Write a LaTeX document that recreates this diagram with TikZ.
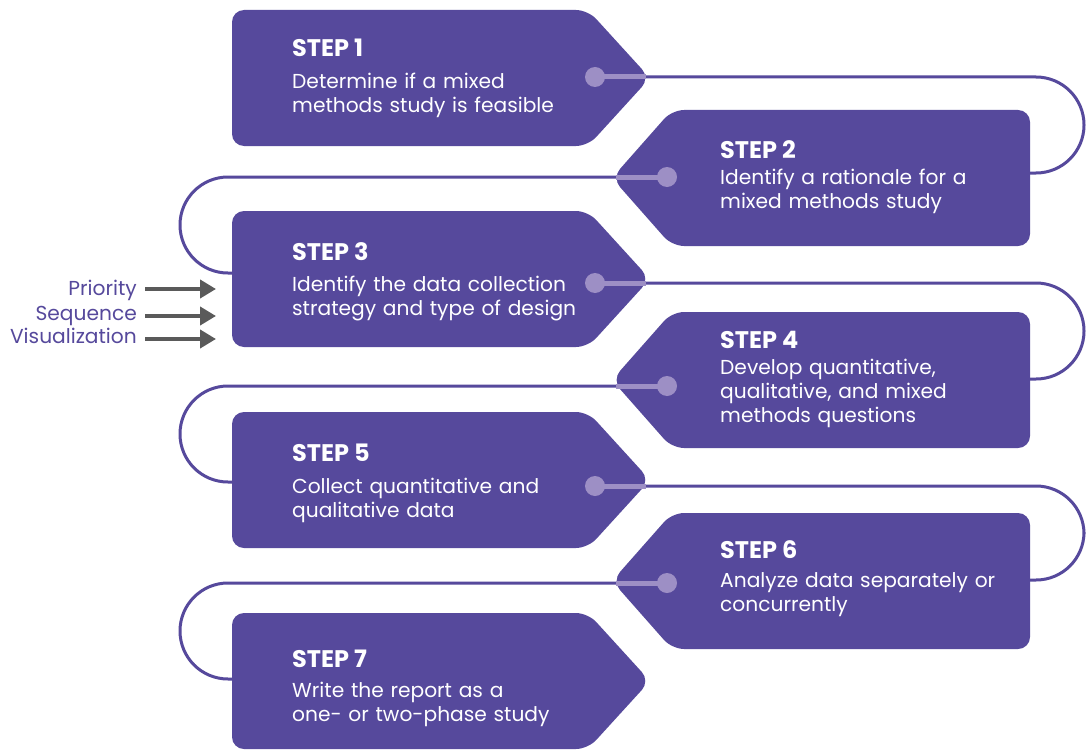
\documentclass[tikz,border=0pt]{standalone}
\usepackage{fontspec}
\setmainfont{Poppins}
\usetikzlibrary{arrows.meta,backgrounds}
\definecolor{boxpurple}{RGB}{86,73,156}
\definecolor{linepurple}{RGB}{86,73,156}
\definecolor{dotpurple}{RGB}{157,143,197}
\definecolor{arrowgray}{RGB}{90,90,90}
\begin{document}
\begin{tikzpicture}[x=1pt,y=-1pt,
  stepbox/.style={fill=boxpurple, rounded corners=12pt},
  serp/.style={draw=linepurple, line width=3pt, rounded corners=48pt},
  lightseg/.style={draw=dotpurple, line width=5pt},
  dot/.style={circle, fill=dotpurple, minimum size=20pt, inner sep=0pt},
  steptitle/.style={anchor=base west, inner sep=0pt, text=white, font=\fontsize{24}{28}\selectfont\bfseries},
  stepbody/.style={anchor=base west, inner sep=0pt, text=white, text width=330pt, align=left, font=\fontsize{20.2}{24}\selectfont},
  sidelabel/.style={anchor=base east, inner sep=0pt, text=linepurple, font=\fontsize{20.2}{24}\selectfont},
  sidearrow/.style={draw=arrowgray, line width=4pt, -{Triangle[length=16pt,width=18pt]}}
]
\useasboundingbox (0,0) rectangle (1086,749);

% step boxes
\foreach \t in {10,211,412,613}
  \fill[stepbox] (232,\t) -- (588,\t) -- (650,{\t+68}) -- (588,{\t+136}) -- (232,{\t+136}) -- cycle;
\foreach \t in {110,312,513}
  \fill[stepbox] (1030,\t) -- (672,\t) -- (612,{\t+68}) -- (672,{\t+136}) -- (1030,{\t+136}) -- cycle;

% light segments
\draw[lightseg] (595,77) -- (646,77);
\draw[lightseg] (667,177) -- (616,177);
\draw[lightseg] (595,283) -- (646,283);
\draw[lightseg] (667,386) -- (616,386);
\draw[lightseg] (595,486) -- (646,486);
\draw[lightseg] (667,583) -- (616,583);

% dots
\node[dot] (d1) at (595,77) {};
\node[dot] (d2) at (667,177) {};
\node[dot] (d3) at (595,283) {};
\node[dot] (d4) at (667,386) {};
\node[dot] (d5) at (595,486) {};
\node[dot] (d6) at (667,583) {};
\coordinate (s7in) at (300,679);

% serpentine connector
\begin{scope}[on background layer]
\fill[white] (0,0) rectangle (1086,749);
\draw[serp] (d1.center) -- (1084,77) -- (1084,173) -- (900,173) -- (d2.center);
\draw[serp] (d2.center) -- (180,177) -- (180,273) -- (400,273) -- (d3.center);
\draw[serp] (d3.center) -- (1084,283) -- (1084,379) -- (900,379) -- (d4.center);
\draw[serp] (d4.center) -- (180,386) -- (180,482) -- (400,482) -- (d5.center);
\draw[serp] (d5.center) -- (1084,486) -- (1084,580) -- (900,580) -- (d6.center);
\draw[serp] (d6.center) -- (180,583) -- (180,679) -- (s7in);
\end{scope}

% texts
\node[steptitle] (t1) at (292,57) {STEP 1};
\node[stepbody] (b1) at (292,89) {Determine if a mixed\\methods study is feasible};
\node[steptitle] (t2) at (720,158) {STEP 2};
\node[stepbody] (b2) at (720,184) {Identify a rationale for a\\mixed methods study};
\node[steptitle] (t3) at (292,260) {STEP 3};
\node[stepbody] (b3) at (292,291) {Identify the data collection\\strategy and type of design};
\node[steptitle] (t4) at (720,348) {STEP 4};
\node[stepbody] (b4) at (720,374) {Develop quantitative,\\qualitative, and mixed\\methods questions};
\node[steptitle] (t5) at (292,461) {STEP 5};
\node[stepbody] (b5) at (292,493) {Collect quantitative and\\qualitative data};
\node[steptitle] (t6) at (720,558) {STEP 6};
\node[stepbody] (b6) at (720,587) {Analyze data separately or\\concurrently};
\node[steptitle] (t7) at (292,667) {STEP 7};
\node[stepbody] (b7) at (292,697) {Write the report as a\\one- or two-phase study};

% side labels and arrows
\node[sidelabel] (p) at (137,295) {Priority};
\node[sidelabel] (s) at (137,320) {Sequence};
\node[sidelabel] (v) at (137,343) {Visualization};
\coordinate (pa) at (216,289);
\coordinate (sa) at (216,316);
\coordinate (va) at (216,339);
\draw[sidearrow] (p.east |- pa) ++(8,0) -- (pa);
\draw[sidearrow] (s.east |- sa) ++(8,0) -- (sa);
\draw[sidearrow] (v.east |- va) ++(8,0) -- (va);
\end{tikzpicture}
\end{document}
